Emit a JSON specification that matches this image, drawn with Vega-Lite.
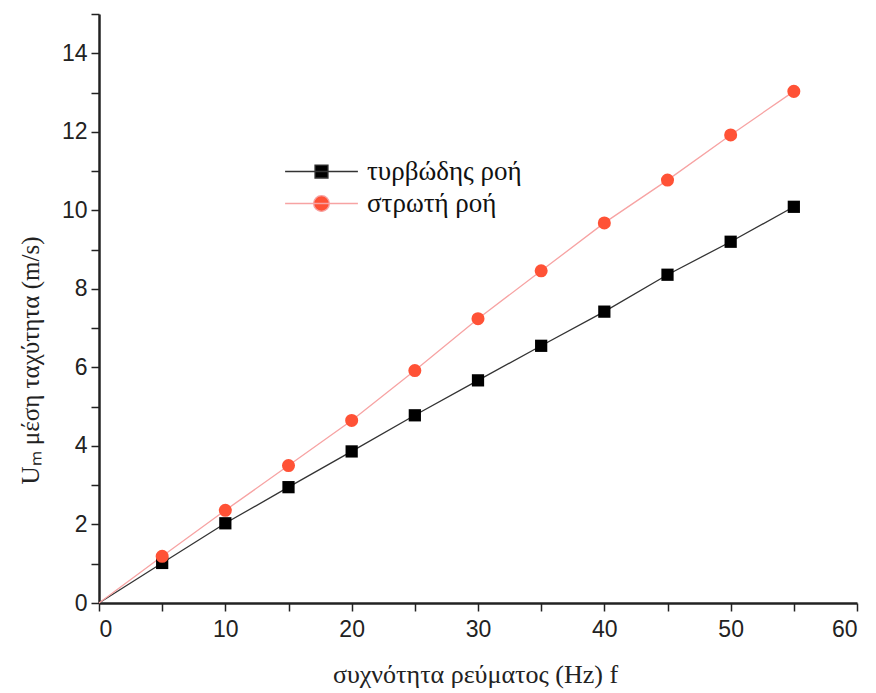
{
  "$schema": "https://vega.github.io/schema/vega-lite/v6.json",
  "width": 758,
  "height": 589,
  "autosize": {"type": "none"},
  "padding": {"left": 99, "top": 14, "right": 19, "bottom": 90},
  "background": "white",
  "config": {"view": {"stroke": null}, "axis": {"grid": false}},
  "data": {"values": [
    {"f": 0, "U": 0, "series": "τυρβώδης ροή"},
    {"f": 5, "U": 1.02, "series": "τυρβώδης ροή"},
    {"f": 10, "U": 2.03, "series": "τυρβώδης ροή"},
    {"f": 15, "U": 2.95, "series": "τυρβώδης ροή"},
    {"f": 20, "U": 3.86, "series": "τυρβώδης ροή"},
    {"f": 25, "U": 4.78, "series": "τυρβώδης ροή"},
    {"f": 30, "U": 5.67, "series": "τυρβώδης ροή"},
    {"f": 35, "U": 6.55, "series": "τυρβώδης ροή"},
    {"f": 40, "U": 7.42, "series": "τυρβώδης ροή"},
    {"f": 45, "U": 8.36, "series": "τυρβώδης ροή"},
    {"f": 50, "U": 9.2, "series": "τυρβώδης ροή"},
    {"f": 55, "U": 10.09, "series": "τυρβώδης ροή"},
    {"f": 0, "U": 0, "series": "στρωτή ροή"},
    {"f": 5, "U": 1.19, "series": "στρωτή ροή"},
    {"f": 10, "U": 2.36, "series": "στρωτή ροή"},
    {"f": 15, "U": 3.5, "series": "στρωτή ροή"},
    {"f": 20, "U": 4.65, "series": "στρωτή ροή"},
    {"f": 25, "U": 5.92, "series": "στρωτή ροή"},
    {"f": 30, "U": 7.24, "series": "στρωτή ροή"},
    {"f": 35, "U": 8.46, "series": "στρωτή ροή"},
    {"f": 40, "U": 9.68, "series": "στρωτή ροή"},
    {"f": 45, "U": 10.77, "series": "στρωτή ροή"},
    {"f": 50, "U": 11.92, "series": "στρωτή ροή"},
    {"f": 55, "U": 13.03, "series": "στρωτή ροή"}
  ]},
  "encoding": {
    "x": {
      "field": "f", "type": "quantitative",
      "scale": {"domain": [0, 60], "nice": false, "zero": true},
      "axis": {
        "title": "συχνότητα ρεύματος (Hz) f",
        "values": [0, 5, 10, 15, 20, 25, 30, 35, 40, 45, 50, 55, 60],
        "labelExpr": "datum.value % 10 === 0 ? datum.label : ''",
        "labelFont": "Liberation Sans", "labelFontSize": 23, "labelColor": "#222222",
        "labelPadding": 7,
        "tickColor": "#222222", "tickWidth": 1.5, "tickSize": 8,
        "domainColor": "#222222", "domainWidth": 2.5,
        "titleFont": "Liberation Serif", "titleFontSize": 26, "titleFontWeight": "normal",
        "titleColor": "#222222",
        "titleX": 376, "titleY": 79, "titleBaseline": "alphabetic", "titleAlign": "center",
        "encode": {"ticks": {"update": {"y2": {"signal": "datum.value % 10 === 0 ? 8 : 3"}}}}
      }
    },
    "y": {
      "field": "U", "type": "quantitative",
      "scale": {"domain": [0, 15], "nice": false, "zero": true},
      "axis": {
        "title": "Uₘ  μέση ταχύτητα (m/s)",
        "values": [0, 1, 2, 3, 4, 5, 6, 7, 8, 9, 10, 11, 12, 13, 14, 15],
        "labelExpr": "datum.value % 2 === 0 ? datum.label : ''",
        "labelFont": "Liberation Sans", "labelFontSize": 23, "labelColor": "#222222",
        "labelPadding": 4,
        "tickColor": "#222222", "tickWidth": 1.5, "tickSize": 8,
        "domainColor": "#222222", "domainWidth": 2.5,
        "titleFont": "Liberation Serif", "titleFontSize": 25, "titleFontWeight": "normal",
        "titleColor": "#222222",
        "titleX": -69, "titleY": 346, "titleAngle": -90, "titleAlign": "center", "titleBaseline": "middle",
        "encode": {"ticks": {"update": {"x2": {"signal": "datum.value % 2 === 0 ? -8 : -3"}}}}
      }
    }
  },
  "layer": [
    {
      "mark": {"type": "line", "strokeWidth": 1.3},
      "encoding": {
        "stroke": {
          "field": "series", "type": "nominal",
          "scale": {"domain": ["τυρβώδης ροή", "στρωτή ροή"], "range": ["#333333", "#f7a3a3"]},
          "legend": {
            "title": null, "orient": "none", "legendX": 204, "legendY": 139,
            "symbolSize": 1225, "rowPadding": -5, "labelOffset": 27,
            "labelFont": "Liberation Serif", "labelFontSize": 27, "labelColor": "#111111",
            "encode": {"symbols": {"update": {
              "shape": {"signal": "datum.value === 'τυρβώδης ροή' ? 'M-2.08,0H2.08M-0.37,-0.37H0.37V0.37H-0.37Z' : 'M-2.08,0H2.08M-0.45,0A0.45,0.45 0 1,0 0.45,0A0.45,0.45 0 1,0 -0.45,0Z'"},
              "fill": {"signal": "datum.value === 'τυρβώδης ροή' ? '#000000' : '#ff5236'"},
              "stroke": {"signal": "datum.value === 'τυρβώδης ροή' ? '#333333' : '#f7a3a3'"},
              "strokeWidth": {"value": 1.3},
              "size": {"value": 1225},
              "opacity": {"value": 1}
            }}}
          }
        }
      }
    },
    {
      "transform": [{"filter": "datum.f > 0 && datum.series === 'τυρβώδης ροή'"}],
      "mark": {"type": "point", "filled": true, "opacity": 1, "strokeWidth": 0, "shape": "square", "color": "#000000", "size": 150},
      "encoding": {}
    },
    {
      "transform": [{"filter": "datum.f > 0 && datum.series === 'στρωτή ροή'"}],
      "mark": {"type": "point", "filled": true, "opacity": 1, "strokeWidth": 0, "shape": "circle", "color": "#ff5236", "size": 170},
      "encoding": {}
    }
  ]
}
